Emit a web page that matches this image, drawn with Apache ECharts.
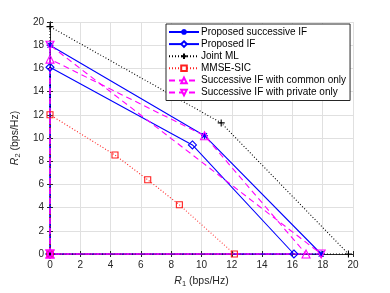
<!DOCTYPE html>
<html>
<head>
<meta charset="utf-8">
<script src="https://cdn.jsdelivr.net/npm/echarts@6/dist/echarts.min.js"></script>
<style>html,body{margin:0;padding:0;background:#fff;}#c{width:390px;height:293px;}</style>
</head>
<body>
<div id="c"></div>
<script>
// Data (R1, R2) in bps/Hz
var seriesNames = ['Proposed successive IF','Proposed IF','Joint ML','MMSE-SIC','Successive IF with common only','Successive IF with private only'];
var succIF_x = [0, 0, 10.2, 17.9, 0];
var succIF_y = [0, 18, 10.2, 0, 0];
var propIF_x = [0, 0, 9.4, 16.1, 0];
var propIF_y = [0, 16.1, 9.4, 0, 0];
var jointML_x = [0, 0, 11.3, 19.7, 0];
var jointML_y = [0, 19.6, 11.3, 0, 0];
var mmse_x = [0, 0, 4.29, 6.45, 8.54, 12.17, 0];
var mmse_y = [0, 12, 8.53, 6.4, 4.24, 0, 0];
var common_x = [0, 0, 10.2, 16.9, 0];
var common_y = [0, 16.8, 10.2, 0, 0];
var private_x = [0, 0, 17.9, 0];
var private_y = [0, 18, 0, 0];
var xTicks = [0,2,4,6,8,10,12,14,16,18,20];
var yTicks = [0,2,4,6,8,10,12,14,16,18,20];

function pairs(xs, ys){ return xs.map(function(v,i){ return [v, ys[i]]; }); }

var BLUE = '#0000ff', MAG = '#ff00ff', RED = '#ff2020', BLK = '#000000';
var AX = '#262626', GRID = '#e0e0e0';
var FONT = 'Liberation Sans, Arial, sans-serif';
var asterisk = 'path://M0,-5L0,5M-5,0L5,0M-3.6,-3.6L3.6,3.6M-3.6,3.6L3.6,-3.6';
var plus = 'path://M0,-5L0,5M-5,0L5,0';
var HOLLOW = 'rgba(255,255,255,0)';

function mk(name, data, color, lineType, symbol, size, fill){
  return {
    name: name, type: 'line', data: data, clip: false,
    symbol: symbol, symbolSize: size, showSymbol: true,
    lineStyle: {color: color, width: 1.1, type: lineType},
    itemStyle: {color: fill, borderColor: color, borderWidth: 1.1},
    animation: false, z: 3
  };
}

var hollowLegend = [false, true, false, true, true, true];
var chart = echarts.init(document.getElementById('c'), null, {renderer:'canvas'});
var axisCommon = {
  min: 0, max: 20, interval: 2,
  axisLine: {show: true, lineStyle: {color: AX, width: 1}},
  axisTick: {show: true, inside: true, length: 3, lineStyle: {color: AX}},
};
chart.setOption({
  backgroundColor: '#fff',
  textStyle: {fontFamily: FONT},
  grid: {left: 50, top: 22, width: 303, height: 236, show: false},
  legend: {
    orient: 'vertical', left: 166, top: 24,
    padding: [2, 4, 2, 2], itemGap: 0.1, itemWidth: 30, itemHeight: 7,
    backgroundColor: '#fff', borderColor: AX, borderWidth: 1,
    textStyle: {fontSize: 10, lineHeight: 12, color: '#000', fontFamily: FONT, padding: [0,0,0,-3]},
    data: seriesNames.map(function(n, i){
      return hollowLegend[i] ? {name: n, itemStyle: {color: '#fff'}} : {name: n};
    })
  },
  xAxis: [
    Object.assign({type: 'value', position: 'bottom',
      axisLabel: {fontSize: 10, color: AX, margin: 6, fontFamily: FONT},
      splitLine: {show: true, lineStyle: {color: GRID, width: 1}},
      name: '{i|R}{s|1} (bps/Hz)', nameLocation: 'middle', nameGap: 20,
      nameTextStyle: {fontSize: 10.5, color: AX, fontFamily: FONT,
        rich: {i: {fontStyle: 'italic', fontSize: 10.5, color: AX, fontFamily: FONT},
               s: {fontSize: 7.5, color: AX, verticalAlign: 'bottom', padding: [6,0,0,0], fontFamily: FONT}}}
    }, axisCommon),
    Object.assign({type: 'value', position: 'top', axisLabel: {show: false}, splitLine: {show: false}}, axisCommon)
  ],
  yAxis: [
    Object.assign({type: 'value', position: 'left',
      axisLabel: {fontSize: 10, color: AX, margin: 6, fontFamily: FONT},
      splitLine: {show: true, lineStyle: {color: GRID, width: 1}},
      name: '{i|R}{s|2} (bps/Hz)', nameLocation: 'middle', nameGap: 21, nameRotate: 90,
      nameTextStyle: {fontSize: 10.5, color: AX, fontFamily: FONT,
        rich: {i: {fontStyle: 'italic', fontSize: 10.5, color: AX, fontFamily: FONT},
               s: {fontSize: 7.5, color: AX, verticalAlign: 'bottom', padding: [6,0,0,0], fontFamily: FONT}}}
    }, axisCommon),
    Object.assign({type: 'value', position: 'right', axisLabel: {show: false}, splitLine: {show: false}}, axisCommon)
  ],
  series: [
    mk(seriesNames[0], pairs(succIF_x, succIF_y), BLUE, 'solid', asterisk, 7, BLUE),
    mk(seriesNames[1], pairs(propIF_x, propIF_y), BLUE, 'solid', 'diamond', 8, HOLLOW),
    mk(seriesNames[2], pairs(jointML_x, jointML_y), BLK, [1,2], plus, 7, BLK),
    mk(seriesNames[3], pairs(mmse_x, mmse_y), RED, [1,2], 'rect', 6, HOLLOW),
    mk(seriesNames[4], pairs(common_x, common_y), MAG, [6,4], 'triangle', 8, HOLLOW),
    Object.assign(mk(seriesNames[5], pairs(private_x, private_y), MAG, [6,4], 'triangle', 8, HOLLOW), {symbolRotate: 180})
  ]
});
</script>
</body>
</html>
